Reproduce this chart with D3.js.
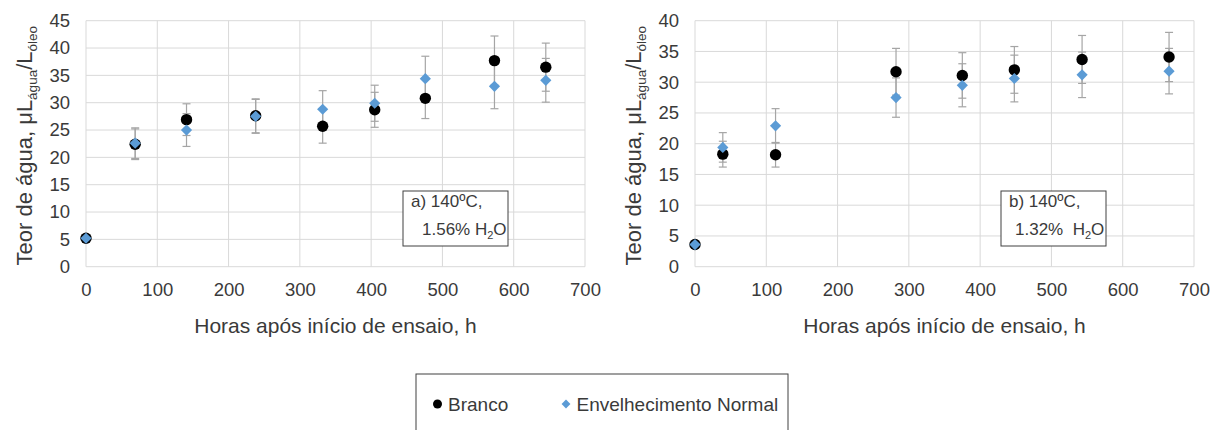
<!DOCTYPE html>
<html>
<head>
<meta charset="utf-8">
<script src="https://cdn.jsdelivr.net/npm/d3@7"></script>
<style>
  body { margin: 0; background: #fff; }
  text { font-family: "Liberation Sans", Arial, sans-serif; fill: #3a3a3a; }
</style>
</head>
<body>
<script>
// panel a) 140ºC, 1.56% H2O
var hoursA = [0, 69, 141, 238, 332, 405, 476, 573, 645]
var brancoA = [5.2, 22.4, 26.9, 27.6, 25.7, 28.7, 30.8, 37.7, 36.5]
var brancoErrA = [0.3, 2.8, 2.9, 3.1, 3.1, 3.2, 3.7, 4.5, 4.4]
var envA = [5.2, 22.6, 25.0, 27.5, 28.8, 29.9, 34.4, 33.0, 34.1]
var envErrA = [0.3, 2.8, 3.0, 3.1, 3.4, 3.3, 4.1, 4.1, 4.0]

// panel b) 140ºC, 1.32% H2O
var hoursB = [0, 39, 113, 282, 375, 448, 543, 665]
var brancoB = [3.6, 18.3, 18.2, 31.7, 31.1, 32.0, 33.7, 34.1]
var brancoErrB = [0.2, 2.1, 2.0, 3.8, 3.7, 3.8, 3.9, 4.0]
var envB = [3.6, 19.4, 22.9, 27.5, 29.5, 30.6, 31.2, 31.8]
var envErrB = [0.2, 2.4, 2.8, 3.2, 3.5, 3.8, 3.7, 3.7]

var xTicks = [0, 100, 200, 300, 400, 500, 600, 700]
var yTicksA = [0, 5, 10, 15, 20, 25, 30, 35, 40, 45]
var yTicksB = [0, 5, 10, 15, 20, 25, 30, 35, 40]

var seriesNames = ['Branco', 'Envelhecimento Normal']

var width = 1218
var height = 430
var blue = '#5b9bd5'
var grid = '#d9d9d9'
var errColor = '#a5a5a5'

var svg = d3.select('body').append('svg')
    .attr('width', width)
    .attr('height', height)

function panel(left, right, yMax, yTicks, hours, branco, brancoErr, env, envErr, label1, label2, boxX, boxW) {
    var top = 20.7, bottom = 266.7
    var x = d3.scaleLinear().domain([0, 700]).range([left, right])
    var y = d3.scaleLinear().domain([0, yMax]).range([bottom, top])
    var g = svg.append('g')

    // gridlines
    g.selectAll('.hg').data(yTicks).enter().append('line')
        .attr('x1', left).attr('x2', right)
        .attr('y1', d => y(d)).attr('y2', d => y(d))
        .attr('stroke', grid).attr('stroke-width', 1)
    g.selectAll('.vg').data(xTicks).enter().append('line')
        .attr('x1', d => x(d)).attr('x2', d => x(d))
        .attr('y1', top).attr('y2', bottom)
        .attr('stroke', grid).attr('stroke-width', 1)

    // axes (labels only)
    g.append('g').attr('transform', 'translate(0,' + bottom + ')')
        .call(d3.axisBottom(x).tickValues(xTicks).tickSize(0).tickPadding(16))
    g.append('g').attr('transform', 'translate(' + left + ',0)')
        .call(d3.axisLeft(y).tickValues(yTicks).tickSize(0).tickPadding(16))
    g.selectAll('.domain').remove()
    g.selectAll('.tick text').style('font-size', '18.5px').attr('fill', '#3a3a3a')
        .style('font-family', '"Liberation Sans", Arial, sans-serif')

    // annotation box
    g.append('rect').attr('x', boxX).attr('y', 191).attr('width', boxW).attr('height', 55)
        .attr('fill', '#fff').attr('stroke', '#404040').attr('stroke-width', 1)
    g.append('text').attr('x', boxX + 8).attr('y', 207).style('font-size', '17px').text(label1)
    var t2 = g.append('text').attr('x', boxX + label2.dx).attr('y', 235).style('font-size', '17px')
        .attr('xml:space', 'preserve').style('white-space', 'pre')
    t2.append('tspan').text(label2.pre)
    t2.append('tspan').attr('dy', 4).style('font-size', '11px').text('2')
    t2.append('tspan').attr('dy', -4).text('O')

    // axis titles
    g.append('text').attr('x', (left + right) / 2).attr('y', 333)
        .attr('text-anchor', 'middle').style('font-size', '21px')
        .text('Horas após início de ensaio, h')
    var yt = g.append('text')
        .attr('transform', 'translate(' + (left - 54) + ',' + ((top + bottom) / 2 + 2) + ') rotate(-90)')
        .attr('text-anchor', 'middle').style('font-size', '22px')
    yt.append('tspan').text('Teor de água, μL')
    yt.append('tspan').attr('dy', 5).style('font-size', '13.5px').text('água')
    yt.append('tspan').attr('dy', -5).text('/L')
    yt.append('tspan').attr('dy', 5).style('font-size', '13.5px').text('óleo')

    // error bars + markers
    function errBars(vals, errs) {
        var eb = g.append('g').attr('stroke', errColor).attr('stroke-width', 1.2)
        hours.forEach(function(h, i) {
            var cx = x(h)
            var y1 = y(vals[i] + errs[i]), y2 = y(vals[i] - errs[i])
            eb.append('line').attr('x1', cx).attr('x2', cx).attr('y1', y1).attr('y2', y2)
            eb.append('line').attr('x1', cx - 4).attr('x2', cx + 4).attr('y1', y1).attr('y2', y1)
            eb.append('line').attr('x1', cx - 4).attr('x2', cx + 4).attr('y1', y2).attr('y2', y2)
        })
    }
    errBars(branco, brancoErr)
    errBars(env, envErr)

    g.selectAll('.pb').data(hours).enter().append('circle')
        .attr('cx', d => x(d)).attr('cy', (d, i) => y(branco[i]))
        .attr('r', 5.7).attr('fill', '#000')
    g.selectAll('.pe').data(hours).enter().append('path')
        .attr('d', d3.symbol().type(d3.symbolDiamond2).size(80))
        .attr('transform', (d, i) => 'translate(' + x(d) + ',' + y(env[i]) + ')')
        .attr('fill', blue)
}

panel(86, 585, 45, yTicksA, hoursA, brancoA, brancoErrA, envA, envErrA,
    'a) 140ºC,', {pre: '1.56% H', dx: 19}, 403, 105)
panel(695, 1194, 40, yTicksB, hoursB, brancoB, brancoErrB, envB, envErrB,
    'b) 140ºC,', {pre: '1.32%  H', dx: 14}, 1001, 105)

// legend
var lg = svg.append('g')
lg.append('rect').attr('x', 416).attr('y', 374).attr('width', 372).attr('height', 80)
    .attr('fill', '#fff').attr('stroke', '#404040').attr('stroke-width', 1)
lg.append('circle').attr('cx', 437.5).attr('cy', 404).attr('r', 4.5).attr('fill', '#000')
lg.append('text').attr('x', 448).attr('y', 411).style('font-size', '19px').text(seriesNames[0])
lg.append('path').attr('d', d3.symbol().type(d3.symbolDiamond2).size(50))
    .attr('transform', 'translate(566,404)').attr('fill', blue)
lg.append('text').attr('x', 576.5).attr('y', 411).style('font-size', '19px').text(seriesNames[1])
</script>
</body>
</html>
